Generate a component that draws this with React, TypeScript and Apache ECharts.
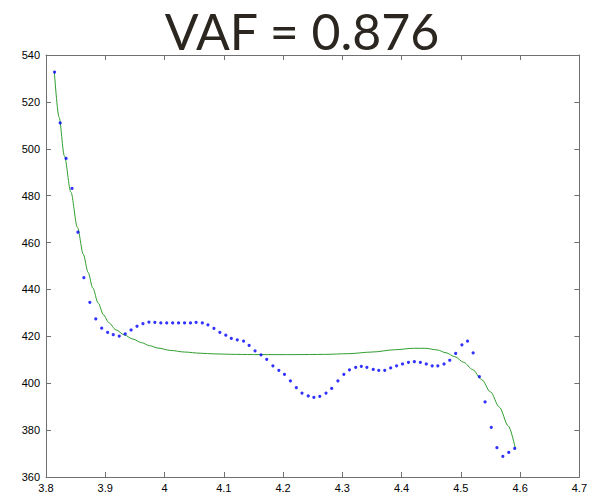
import React, { useEffect, useRef } from "react";
import * as echarts from "echarts";

const titleText = "VAF = 0.876";

const pointX = [
  3.8145, 3.8239, 3.8339, 3.8439, 3.8539, 3.8639, 3.874, 3.884, 3.894, 3.904,
  3.9135, 3.9236, 3.9336, 3.9436, 3.9536, 3.9636, 3.9737, 3.9837, 3.9937, 4.0037,
  4.0137, 4.0237, 4.0338, 4.0438, 4.0533, 4.0638, 4.0733, 4.0834, 4.0934, 4.1034,
  4.1127, 4.1228, 4.1334, 4.1428, 4.1528, 4.1628, 4.1724, 4.1829, 4.1929, 4.2024,
  4.2124, 4.2224, 4.232, 4.2425, 4.252, 4.262, 4.2725, 4.2821, 4.2926, 4.3026,
  4.3121, 4.3226, 4.3321, 4.3415, 4.3522, 4.3615, 4.3716, 4.3816, 4.3916, 4.4016,
  4.4116, 4.4216, 4.4317, 4.4417, 4.4517, 4.4612, 4.4717, 4.4813, 4.4913, 4.5018,
  4.5113, 4.5208, 4.5313, 4.5409, 4.5514, 4.5609, 4.5709, 4.5809, 4.5909,
];

const pointY = [
  532.7, 511.0, 495.9, 483.1, 464.4, 445.0, 434.5, 427.4, 423.5, 421.7,
  420.7, 420.1, 421.0, 422.7, 424.3, 425.4, 426.1, 426.0, 425.7, 425.7,
  425.7, 425.7, 425.7, 425.7, 426.0, 425.7, 424.9, 423.4, 421.7, 420.5,
  419.1, 418.5, 418.0, 416.1, 413.8, 412.1, 410.2, 407.4, 405.5, 403.8,
  401.0, 398.1, 395.8, 394.6, 394.0, 394.4, 395.8, 397.8, 401.0, 403.8,
  405.7, 406.8, 407.2, 406.8, 405.9, 405.5, 405.5, 406.5, 407.4, 408.2,
  408.9, 409.2, 408.9, 408.2, 407.4, 407.4, 408.2, 409.8, 412.7, 416.4,
  418.0, 412.9, 402.8, 392.0, 381.2, 372.5, 368.8, 370.5, 372.2,
];

const fitX = [
  3.814, 3.822, 3.831, 3.842, 3.853, 3.863, 3.871, 3.879, 3.888, 3.897,
  3.906, 3.918, 3.932, 3.947, 3.961, 3.975, 3.989, 4.01, 4.034, 4.06,
  4.085, 4.12, 4.16, 4.22, 4.27, 4.31, 4.35, 4.39, 4.42, 4.44,
  4.46, 4.475, 4.49, 4.505, 4.52, 4.535, 4.55, 4.565, 4.58, 4.592,
];

const fitY = [
  533.0, 513.5, 497.0, 481.5, 466.5, 455.0, 447.3, 440.6, 434.2, 429.2,
  425.8, 422.8, 420.6, 418.8, 417.3, 416.0, 415.0, 414.0, 413.3, 412.8,
  412.5, 412.3, 412.2, 412.2, 412.3, 412.6, 413.3, 414.3, 414.9, 414.9,
  414.2, 413.0, 411.3, 408.9, 405.8, 401.6, 396.3, 389.8, 381.8, 372.2,
];

const xMin = 3.8;
const xMax = 4.7;
const xStep = 0.1;
const yMin = 360;
const yMax = 540;
const yStep = 20;

export default function App() {
  const ref = useRef<HTMLDivElement>(null);

  useEffect(() => {
    if (!ref.current) return;
    const chart = echarts.init(ref.current, null, { renderer: "svg" });
    const axisColor = "#707070";
    const labelStyle = {
      color: "#000",
      fontSize: 11,
      fontFamily: "Liberation Sans, Arial, sans-serif",
    };
    const fmtX = (v: number) => String(+v.toFixed(1));
    const commonX = {
      type: "value" as const,
      min: xMin,
      max: xMax,
      interval: xStep,
      splitLine: { show: false },
      axisLine: { show: true, lineStyle: { color: axisColor, width: 1 } },
      axisTick: { show: true, inside: true, length: 5, lineStyle: { color: axisColor } },
    };
    const commonY = {
      type: "value" as const,
      min: yMin,
      max: yMax,
      interval: yStep,
      splitLine: { show: false },
      axisLine: { show: true, lineStyle: { color: axisColor, width: 1 } },
      axisTick: { show: true, inside: true, length: 5, lineStyle: { color: axisColor } },
    };
    chart.setOption({
      animation: false,
      backgroundColor: "#fff",
      grid: { left: 46, right: 6, top: 55, bottom: 19, containLabel: false },
      graphic: [
        {
          type: "text",
          x: 302,
          y: 31,
          style: {
            text: titleText,
            fill: "#2b2620",
            font: "50px Lato, 'Open Sans', sans-serif",
            textAlign: "center",
            textVerticalAlign: "middle",
          },
        },
      ],
      xAxis: [
        {
          ...commonX,
          position: "bottom",
          axisLabel: { ...labelStyle, margin: 5, formatter: fmtX },
        },
        {
          ...commonX,
          position: "top",
          axisLabel: { show: false },
        },
      ],
      yAxis: [
        {
          ...commonY,
          position: "left",
          axisLabel: { ...labelStyle, margin: 6 },
        },
        {
          ...commonY,
          position: "right",
          axisLabel: { show: false },
        },
      ],
      series: [
        {
          type: "line",
          xAxisIndex: 0,
          yAxisIndex: 0,
          data: fitX.map((x, i) => [x, fitY[i]]),
          showSymbol: false,
          smooth: 0.3,
          smoothMonotone: "x",
          lineStyle: { color: "#2f9e2f", width: 1 },
          z: 2,
        },
        {
          type: "scatter",
          xAxisIndex: 0,
          yAxisIndex: 0,
          data: pointX.map((x, i) => [x, pointY[i]]),
          symbol: "circle",
          symbolSize: 3.2,
          itemStyle: { color: "#0000ff" },
          z: 3,
        },
      ],
    });
    return () => chart.dispose();
  }, []);

  return (
    <div
      ref={ref}
      style={{ position: "fixed", left: 0, top: 0, width: 590, height: 496 }}
    />
  );
}
